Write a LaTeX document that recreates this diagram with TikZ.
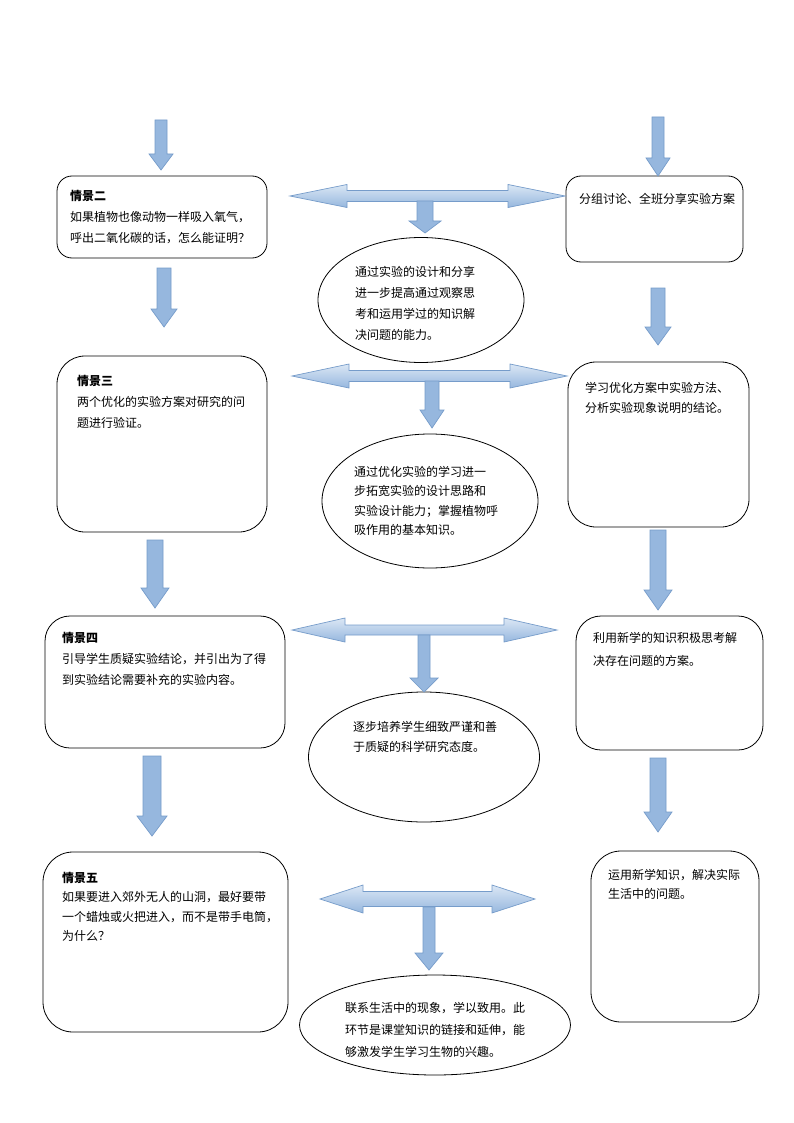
\documentclass[tikz,border=0pt]{standalone}
\usepackage{fontspec}
\setmainfont{Noto Sans CJK SC}
\usetikzlibrary{shapes.geometric}

\definecolor{arrowlight}{RGB}{219,231,245}
\definecolor{arrowdark}{RGB}{150,183,222}
\definecolor{arrowline}{RGB}{118,156,202}

% down block arrow: x, top, tip, shaft half, head half, head length
\newcommand{\downblock}[6]{%
  \shadedraw[blockarrow, left color=arrowdark, middle color=arrowlight, right color=arrowdark]
    ({#1-#4},#2) -- ({#1+#4},#2) -- ({#1+#4},{#3-#6}) -- ({#1+#5},{#3-#6})
    -- (#1,#3) -- ({#1-#5},{#3-#6}) -- ({#1-#4},{#3-#6}) -- cycle;}
% double block arrow: left tip, right tip, y, shaft half, head half, head length
\newcommand{\dblblock}[6]{%
  \shadedraw[blockarrow, top color=arrowlight, bottom color=arrowdark]
    (#1,#3) -- ({#1+#6},{#3-#5}) -- ({#1+#6},{#3-#4}) -- ({#2-#6},{#3-#4})
    -- ({#2-#6},{#3-#5}) -- (#2,#3) -- ({#2-#6},{#3+#5}) -- ({#2-#6},{#3+#4})
    -- ({#1+#6},{#3+#4}) -- ({#1+#6},{#3+#5}) -- cycle;}

\tikzset{
  blockarrow/.style={draw=arrowline, line width=0.7pt, line join=miter},
  scenebox/.style={draw, line width=0.8pt, rectangle},
  goal/.style={draw, line width=0.8pt, ellipse},
  txt/.style={inner sep=0pt, align=left, font=\fontsize{12}{21}\selectfont}
}

\begin{document}
\begin{tikzpicture}[x=1pt, y=-1pt]
\useasboundingbox[fill=white] (0,0) rectangle (794,1123);

% left column
\node[scenebox, rounded corners=15, minimum width=210, minimum height=82] (q2) at (162,217) {};
\node[scenebox, rounded corners=28, minimum width=210, minimum height=176] (q3) at (162,444) {};
\node[scenebox, rounded corners=25, minimum width=240, minimum height=132] (q4) at (165,682) {};
\node[scenebox, rounded corners=30, minimum width=245, minimum height=180] (q5) at (165.5,942) {};

% right column
\node[scenebox, rounded corners=15, minimum width=177, minimum height=86] (r1) at (654.5,219) {};
\node[scenebox, rounded corners=28, minimum width=181, minimum height=165] (r2) at (658.5,444.5) {};
\node[scenebox, rounded corners=25, minimum width=187, minimum height=134] (r3) at (669.5,683) {};
\node[scenebox, rounded corners=30, minimum width=168, minimum height=171] (r4) at (675,936.5) {};

% middle column
\node[goal, minimum width=206, minimum height=125] (e1) at (421,300) {};
\node[goal, minimum width=216, minimum height=134] (e2) at (430,501) {};
\node[goal, minimum width=231, minimum height=130] (e3) at (424,757) {};
\node[goal, minimum width=271, minimum height=100] (e4) at (435,1025) {};

% texts
\node[txt, anchor=north west] (q2t) at (70,190) {\textbf{情景二}\\如果植物也像动物一样吸入氧气，\\呼出二氧化碳的话，怎么能证明？};
\node[txt, anchor=north west] (q3t) at (77,375) {\textbf{情景三}\\两个优化的实验方案对研究的问\\题进行验证。};
\node[txt, anchor=north west] (q4t) at (62,632) {\textbf{情景四}\\引导学生质疑实验结论，并引出为了得\\到实验结论需要补充的实验内容。};
\node[txt, anchor=north west, font=\fontsize{12}{19.5}\selectfont] (q5t) at (62,872) {\textbf{情景五}\\如果要进入郊外无人的山洞，最好要带\\一个蜡烛或火把进入，而不是带手电筒，\\为什么？};

\node[txt, anchor=north west] (r1t) at (579,193) {分组讨论、全班分享实验方案};
\node[txt, anchor=north west, font=\fontsize{12}{20}\selectfont] (r2t) at (585,382) {学习优化方案中实验方法、\\分析实验现象说明的结论。};
\node[txt, anchor=north west, font=\fontsize{12}{23}\selectfont] (r3t) at (593,632) {利用新学的知识积极思考解\\决存在问题的方案。};
\node[txt, anchor=north west, font=\fontsize{12}{19}\selectfont] (r4t) at (608,869) {运用新学知识，解决实际\\生活中的问题。};

\node[txt] (e1t) at ([shift={(-6,3)}]e1.center) {通过实验的设计和分享\\进一步提高通过观察思\\考和运用学过的知识解\\决问题的能力。};
\node[txt, font=\fontsize{12}{19.5}\selectfont] (e2t) at ([shift={(-4,0)}]e2.center) {通过优化实验的学习进一\\步拓宽实验的设计思路和\\实验设计能力；掌握植物呼\\吸作用的基本知识。};
\node[txt, font=\fontsize{12}{20}\selectfont] (e3t) at ([shift={(1,-20)}]e3.center) {逐步培养学生细致严谨和善\\于质疑的科学研究态度。};
\node[txt, font=\fontsize{12}{22}\selectfont] (e4t) at ([shift={(0,5)}]e4.center) {联系生活中的现象，学以致用。此\\环节是课堂知识的链接和延伸，能\\够激发学生学习生物的兴趣。};

% down arrows, left and right columns
\downblock{161}{120}{170}{6}{12}{16}
\downblock{658}{117}{176}{6}{12}{18}
\downblock{164}{268}{327}{7}{13}{18}
\downblock{658}{288}{345}{7}{13}{18}
\downblock{155}{540}{608}{8}{14}{20}
\downblock{658}{530}{610}{8}{14}{20}
\downblock{152}{756}{836}{9}{15}{20}
\downblock{658}{758}{832}{8}{14}{20}

% double arrows with stubs
\dblblock{290}{565}{196}{5.5}{11.5}{57}
\downblock{425}{201}{233}{8}{16}{12}
\dblblock{292}{567}{376}{5.5}{12}{57}
\downblock{432}{381}{428}{7}{12}{18}
\dblblock{292}{557}{630}{5}{12}{53}
\downblock{424}{635}{692}{6}{14}{14}
\dblblock{320}{535}{899}{7.5}{14}{43}
\downblock{429}{907}{970}{6}{14}{17}

\end{tikzpicture}
\end{document}
